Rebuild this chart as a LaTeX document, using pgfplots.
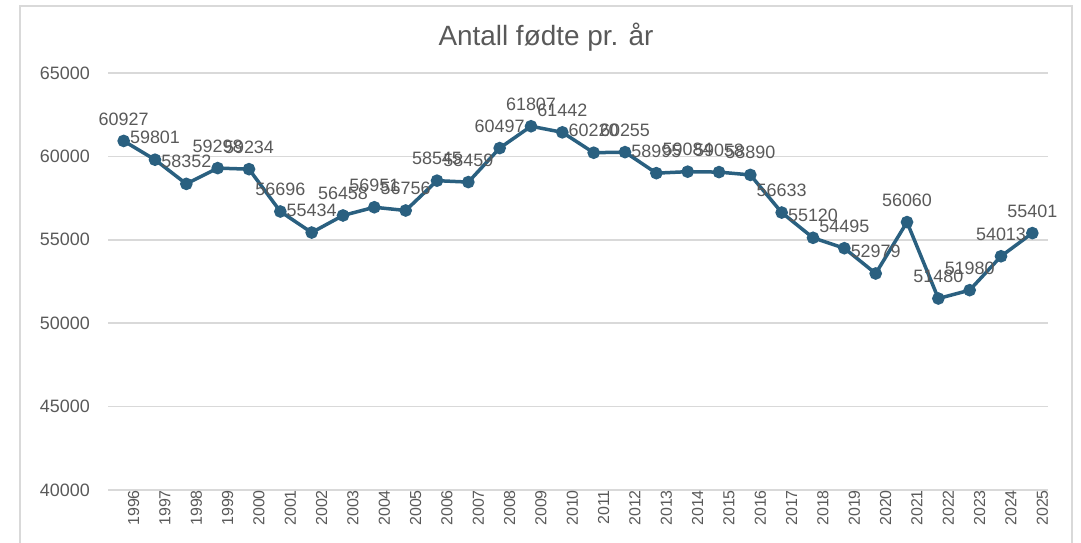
\documentclass[border=0pt]{standalone}
\usepackage{fontspec}
\setmainfont{Liberation Sans}
\usepackage{pgfplots}
\pgfplotsset{compat=1.18}
\usepackage{pgfplotstable}
\definecolor{linec}{RGB}{42,96,128}
\definecolor{txtc}{RGB}{89,89,89}
\definecolor{gridc}{RGB}{217,217,217}
\pgfplotstableread{
year births
1996 60927
1997 59801
1998 58352
1999 59298
2000 59234
2001 56696
2002 55434
2003 56458
2004 56951
2005 56756
2006 58545
2007 58459
2008 60497
2009 61807
2010 61442
2011 60220
2012 60255
2013 58995
2014 59084
2015 59058
2016 58890
2017 56633
2018 55120
2019 54495
2020 52979
2021 56060
2022 51480
2023 51980
2024 54013
2025 55401
}\births
\begin{document}
\begin{tikzpicture}[x=1bp,y=1bp]
\path[use as bounding box] (0,0) rectangle (1081,543);
\draw[gridc, line width=1.5bp] (20,0) -- (20,537) -- (1072,537) -- (1072,0);
\node[txtc, font=\fontsize{28}{32}\selectfont] at (546,506) {Antall fødte pr. år};
\begin{axis}[
  at={(108bp,53bp)}, anchor=south west,
  scale only axis, width=940bp, height=417bp,
  xmin=1995.5, xmax=2025.5, ymin=40000, ymax=65000,
  xtick={1996,...,2025}, ytick={40000,45000,...,65000},
  scaled y ticks=false,
  /pgf/number format/.cd, fixed, precision=0, 1000 sep={}, assume math mode=true, /pgfplots/.cd,
  axis line style={draw=none}, tick style={draw=none},
  ymajorgrids, grid style={gridc, line width=1.5bp},
  yticklabel style={font=\fontsize{18}{20}\selectfont, text=txtc, anchor=east, inner sep=0pt, xshift=-18bp},
  xticklabel style={font=\fontsize{16}{18}\selectfont, text=txtc, rotate=90, anchor=east, inner sep=0pt, yshift=-10bp},
  clip=false,
  nodes near coords,
  nodes near coords style={font=\fontsize{18}{20}\selectfont, text=txtc, anchor=south, inner sep=0pt, yshift=14bp},
]
\addplot[linec, line width=3.5bp, mark=*, mark size=4.5bp, mark options={fill=linec, draw=linec}] table[x=year, y=births] {\births};
\end{axis}
\end{tikzpicture}
\end{document}
